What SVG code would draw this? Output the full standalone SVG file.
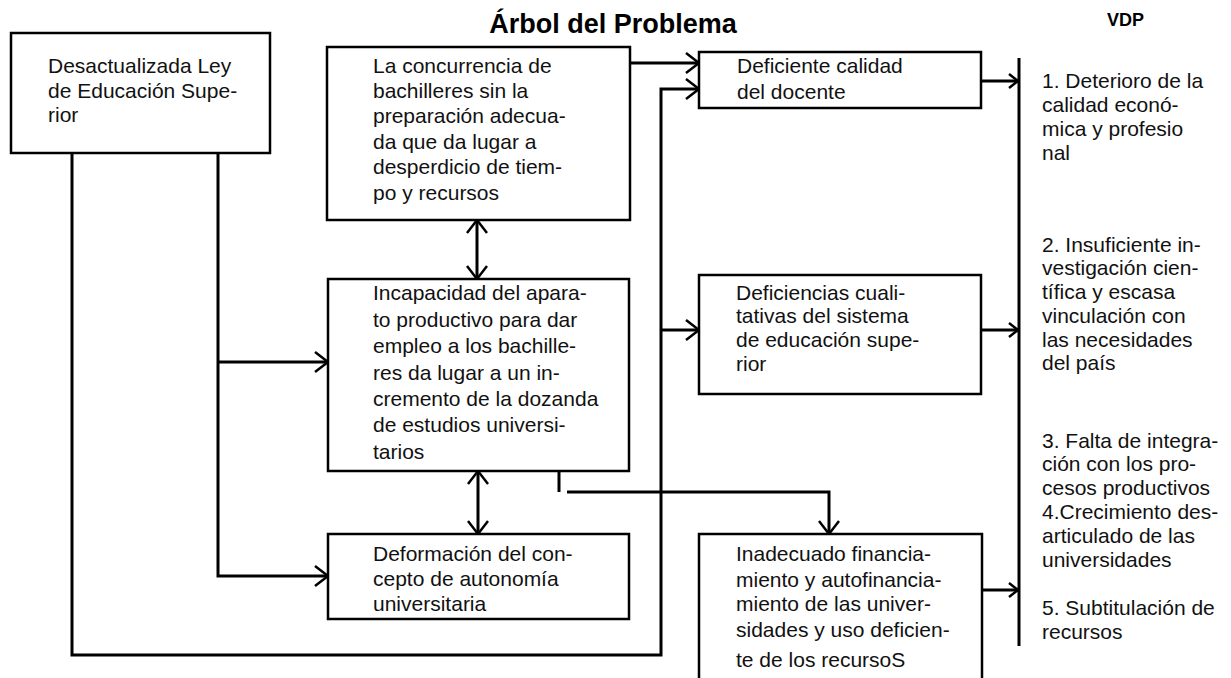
<svg xmlns="http://www.w3.org/2000/svg" width="1231" height="678" viewBox="0 0 1231 678">
<style>
.box{fill:#fff;stroke:#000;stroke-width:2.5}
.t{font-family:"Liberation Sans",Arial,sans-serif;font-size:21px;fill:#111}
.c{fill:none;stroke:#000;stroke-width:3}
.h{font-family:"Liberation Sans",Arial,sans-serif;font-weight:bold;fill:#000}
</style>
<defs>
<marker id="a" markerUnits="userSpaceOnUse" markerWidth="30" markerHeight="30" viewBox="-15 -15 30 30" refX="0" refY="0" orient="auto-start-reverse">
<path d="M-13,-10 L0,0 L-13,10" fill="none" stroke="#000" stroke-width="2.5"/>
</marker>
<marker id="s" markerUnits="userSpaceOnUse" markerWidth="30" markerHeight="30" viewBox="-15 -15 30 30" refX="0" refY="0" orient="auto">
<path d="M-9,-7 L0,0 L-9,7" fill="none" stroke="#000" stroke-width="2.5"/>
</marker>
</defs>
<rect width="1231" height="678" fill="#fff"/>
<text class="h" x="613" y="33" font-size="27" text-anchor="middle">Árbol del Problema</text>
<text class="h" x="1107" y="26" font-size="18">VDP</text>

<g id="connectors">
<path class="c" d="M630,63 H699" marker-end="url(#a)"/>
<path class="c" d="M72,153 V655 H661 V89 H699" marker-end="url(#a)"/>
<path class="c" d="M661,330 H699" marker-end="url(#a)"/>
<path class="c" d="M218,151 V576 H328" marker-end="url(#a)"/>
<path class="c" d="M218,362 H328" marker-end="url(#a)"/>
<path class="c" d="M477,220 V279" marker-start="url(#a)" marker-end="url(#a)"/>
<path class="c" d="M478,471 V534" marker-start="url(#a)" marker-end="url(#a)"/>
<path class="c" d="M559,471 V492"/>
<path class="c" d="M567,492 H829 V534" marker-end="url(#a)"/>
<path class="c" d="M981,81 H1018" marker-end="url(#s)"/>
<path class="c" d="M981,330 H1018" marker-end="url(#s)"/>
<path class="c" d="M982,590 H1018" marker-end="url(#s)"/>
<path class="c" d="M1019,58 V646"/>
</g>

<g id="n1">
<rect class="box" x="11" y="33" width="259" height="120"/>
<text class="t" x="48" y="73">Desactualizada Ley</text>
<text class="t" x="48" y="98">de Educación Supe-</text>
<text class="t" x="48" y="122">rior</text>
</g>

<g id="n2">
<rect class="box" x="327" y="47" width="303" height="173"/>
<text class="t" x="373" y="73">La concurrencia de</text>
<text class="t" x="373" y="98">bachilleres sin la</text>
<text class="t" x="373" y="123">preparación adecua-</text>
<text class="t" x="373" y="149">da que da lugar a</text>
<text class="t" x="373" y="174">desperdicio de tiem-</text>
<text class="t" x="373" y="200">po y recursos</text>
</g>

<g id="n3">
<rect class="box" x="699" y="52" width="282" height="56"/>
<text class="t" x="737" y="73">Deficiente calidad</text>
<text class="t" x="737" y="99">del docente</text>
</g>

<g id="n4">
<rect class="box" x="328" y="279" width="301" height="192"/>
<text class="t" x="373" y="300">Incapacidad del apara-</text>
<text class="t" x="373" y="327">to productivo para dar</text>
<text class="t" x="373" y="353">empleo a los bachille-</text>
<text class="t" x="373" y="380">res da lugar a un in-</text>
<text class="t" x="373" y="406">cremento de la dozanda</text>
<text class="t" x="373" y="432">de estudios universi-</text>
<text class="t" x="373" y="459">tarios</text>
</g>

<g id="n5">
<rect class="box" x="699" y="275" width="282" height="119"/>
<text class="t" x="736" y="300">Deficiencias cuali-</text>
<text class="t" x="736" y="323">tativas del sistema</text>
<text class="t" x="736" y="347">de educación supe-</text>
<text class="t" x="736" y="371">rior</text>
</g>

<g id="n6">
<rect class="box" x="328" y="534" width="301" height="85"/>
<text class="t" x="373" y="561">Deformación del con-</text>
<text class="t" x="373" y="586">cepto de autonomía</text>
<text class="t" x="373" y="611">universitaria</text>
</g>

<g id="n7">
<rect class="box" x="699" y="534" width="283" height="160"/>
<text class="t" x="736" y="561">Inadecuado financia-</text>
<text class="t" x="736" y="587">miento y autofinancia-</text>
<text class="t" x="736" y="611">miento de las univer-</text>
<text class="t" x="736" y="637">sidades y uso deficien-</text>
<text class="t" x="736" y="667">te de los recursoS</text>
</g>

<g id="vdp">
<text class="t" x="1042" y="88">1. Deterioro de la</text>
<text class="t" x="1042" y="112">calidad econó-</text>
<text class="t" x="1042" y="136">mica y profesio</text>
<text class="t" x="1042" y="160">nal</text>
<text class="t" x="1042" y="252">2. Insuficiente in-</text>
<text class="t" x="1042" y="275">vestigación cien-</text>
<text class="t" x="1042" y="299">tífica y escasa</text>
<text class="t" x="1042" y="323">vinculación con</text>
<text class="t" x="1042" y="347">las necesidades</text>
<text class="t" x="1042" y="370">del país</text>
<text class="t" x="1042" y="448">3. Falta de integra-</text>
<text class="t" x="1042" y="471">ción con los pro-</text>
<text class="t" x="1042" y="495">cesos productivos</text>
<text class="t" x="1042" y="519">4.Crecimiento des-</text>
<text class="t" x="1042" y="543">articulado de las</text>
<text class="t" x="1042" y="567">universidades</text>
<text class="t" x="1042" y="615">5. Subtitulación de</text>
<text class="t" x="1042" y="639">recursos</text>
</g>
</svg>
